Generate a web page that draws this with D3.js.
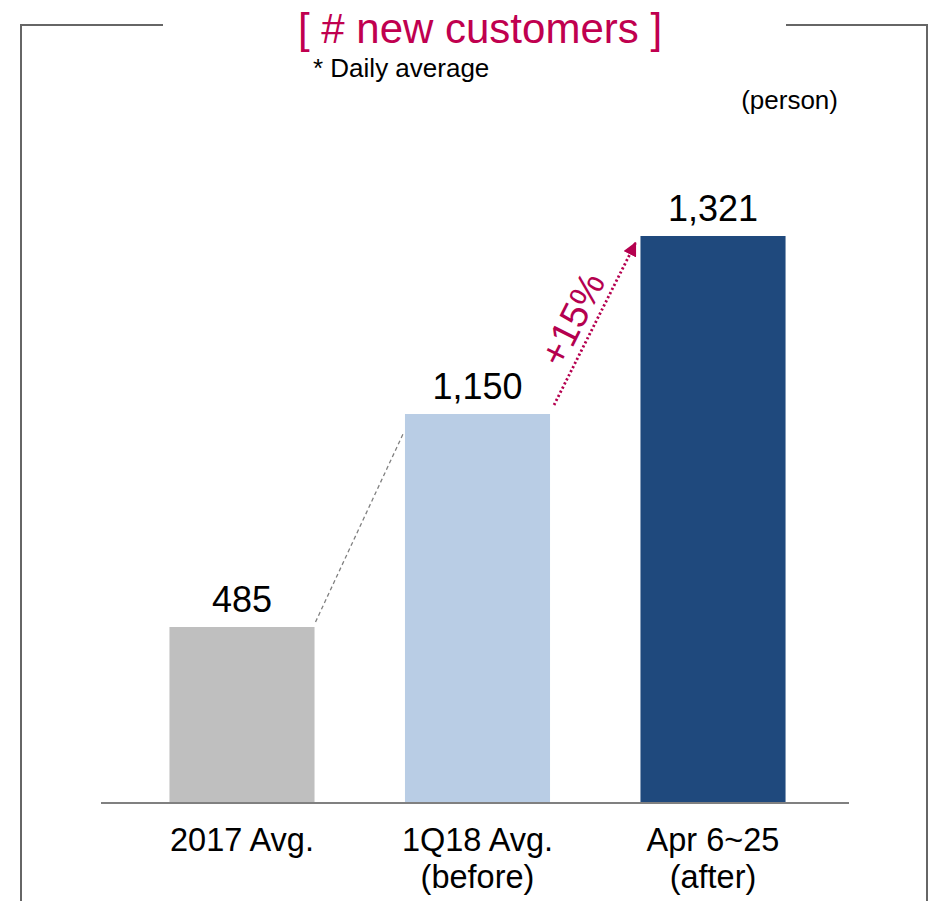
<!DOCTYPE html>
<meta charset="utf-8">
<style>
  body { margin: 0; background: #fff; font-family: "Liberation Sans", Arial, Helvetica, sans-serif; }
</style>
<body>
<svg></svg>
<script src="https://d3js.org/d3.v7.min.js"></script>
<script>
// data
var categories = ["2017 Avg.", "1Q18 Avg.", "Apr 6~25"];
var subLabels = ["", "(before)", "(after)"];
var values = [485, 1150, 1321];
var valueLabels = ["485", "1,150", "1,321"];
var barColors = ["#bfbfbf", "#b9cde5", "#1f497d"];
var growthLabel = "+15%";

var width = 934, height = 901;
var svg = d3.select("svg").attr("width", width).attr("height", height);

var x = d3.scaleBand().domain(categories).range([124, 831]).paddingInner(0.384).paddingOuter(0.193);
// the source chart does not draw bars proportionally, so the scale is piecewise
var y = d3.scaleLinear().domain([0, 485, 1150, 1321]).range([803, 627, 414, 236]);

// frame
var frame = svg.append("g").attr("stroke", "#666").attr("stroke-width", 2).attr("fill", "none");
frame.append("path").attr("d", "M163,25H21V901");
frame.append("path").attr("d", "M786,25H927V901");

// title
svg.append("text").attr("x", 480).attr("y", 43).attr("text-anchor", "middle")
  .attr("font-size", 42).attr("fill", "#c0004f").text("[ # new customers ]");
svg.append("text").attr("x", 313).attr("y", 77)
  .attr("font-size", 26).attr("fill", "#000").text("* Daily average");
svg.append("text").attr("x", 838).attr("y", 109).attr("text-anchor", "end")
  .attr("font-size", 26).attr("fill", "#000").text("(person)");

// bars
svg.selectAll("rect.bar").data(values).enter().append("rect")
  .attr("class", "bar")
  .attr("x", function (d, i) { return x(categories[i]); })
  .attr("width", x.bandwidth())
  .attr("y", function (d) { return y(d); })
  .attr("height", function (d) { return y(0) - y(d); })
  .attr("fill", function (d, i) { return barColors[i]; });

// baseline
svg.append("line").attr("x1", 101).attr("x2", 849).attr("y1", y(0)).attr("y2", y(0))
  .attr("stroke", "#808080").attr("stroke-width", 2);

// value labels
svg.selectAll("text.val").data(values).enter().append("text")
  .attr("class", "val")
  .attr("x", function (d, i) { return x(categories[i]) + x.bandwidth() / 2; })
  .attr("y", function (d) { return y(d) - 15; })
  .attr("text-anchor", "middle").attr("font-size", 36).attr("fill", "#000")
  .text(function (d, i) { return valueLabels[i]; });

// category labels
var cat = svg.selectAll("text.cat").data(categories).enter().append("text")
  .attr("class", "cat")
  .attr("text-anchor", "middle").attr("font-size", 32.5).attr("fill", "#000");
cat.append("tspan")
  .attr("x", function (d) { return x(d) + x.bandwidth() / 2; })
  .attr("y", 851).text(function (d) { return d; });
cat.append("tspan")
  .attr("x", function (d) { return x(d) + x.bandwidth() / 2; })
  .attr("y", 888).text(function (d, i) { return subLabels[i]; });

// dashed connector from bar 1 to bar 2
var x1r = x(categories[0]) + x.bandwidth(), x2l = x(categories[1]);
svg.append("line")
  .attr("x1", x1r + 1).attr("y1", y(values[0]) - 5)
  .attr("x2", x2l - 1).attr("y2", y(values[1]) + 18)
  .attr("stroke", "#808080").attr("stroke-width", 1.3).attr("stroke-dasharray", "4,3");

// dotted growth arrow from bar 2 to bar 3
var defs = svg.append("defs");
defs.append("marker").attr("id", "ah").attr("viewBox", "0 0 10 10")
  .attr("refX", 9).attr("refY", 5).attr("markerWidth", 5).attr("markerHeight", 5)
  .attr("markerUnits", "strokeWidth").attr("orient", "auto")
  .append("path").attr("d", "M0,0L10,5L0,10z").attr("fill", "#b5004f");

var ax1 = x(categories[1]) + x.bandwidth() + 4, ay1 = y(values[1]) - 9;
var ax2 = x(categories[2]) - 5, ay2 = y(values[2]) + 7;
svg.append("line")
  .attr("x1", ax1).attr("y1", ay1).attr("x2", ax2).attr("y2", ay2)
  .attr("stroke", "#b5004f").attr("stroke-width", 2.8)
  .attr("stroke-dasharray", "2.2,2.4").attr("marker-end", "url(#ah)");

var ang = Math.atan2(ay2 - ay1, ax2 - ax1) * 180 / Math.PI;
svg.append("text")
  .attr("transform", "translate(" + 584 + "," + 325 + ")rotate(" + ang + ")")
  .attr("text-anchor", "middle").attr("font-size", 38).attr("fill", "#b5004f")
  .text(growthLabel);
</script>
</body>
